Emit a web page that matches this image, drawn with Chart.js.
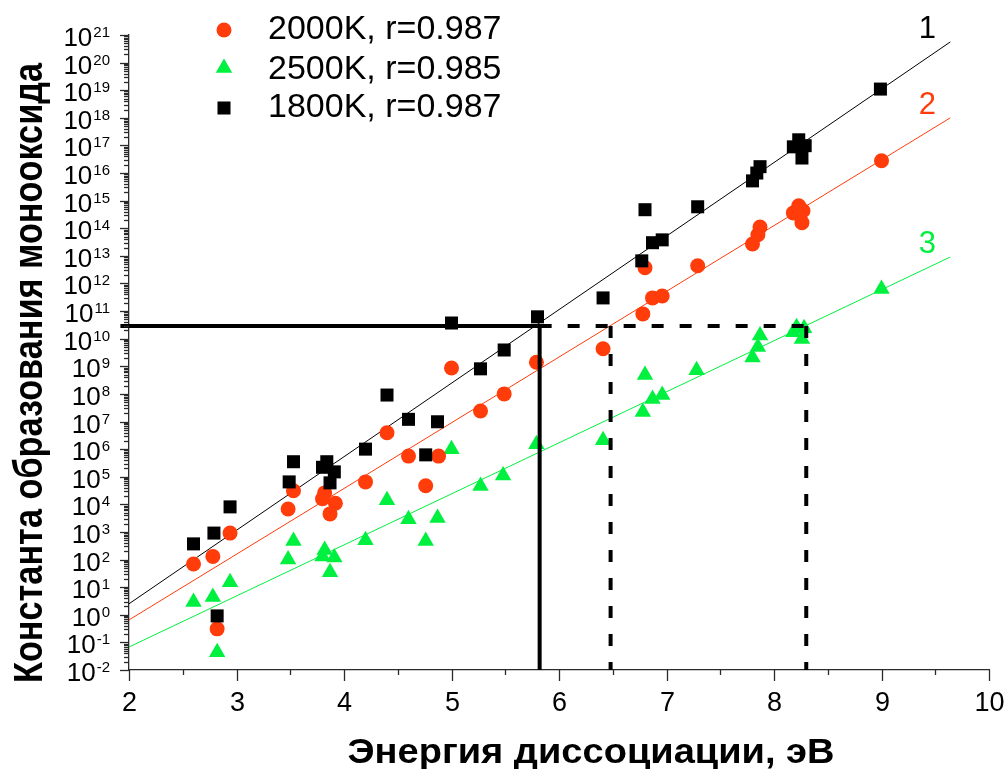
<!DOCTYPE html>
<html lang="ru">
<head>
<meta charset="utf-8">
<title>Константа образования монооксида</title>
<script src="https://cdn.jsdelivr.net/npm/chart.js@4.4.1/dist/chart.umd.min.js"></script>
<style>
  html, body { margin: 0; padding: 0; background: #fff; }
  #grafico { position: relative; width: 1008px; height: 769px; }
</style>
</head>
<body>
<div id="grafico"><canvas id="cvsMonooxido"></canvas></div>
<script>
// ! Datos
const seriesNames = ['2000K, r=0.987', '2500K, r=0.985', '1800K, r=0.987'];

const x1800 = [2.60, 2.79, 2.94, 2.82, 3.49, 3.53, 3.80, 3.84, 3.91, 3.87, 4.20, 4.40, 4.60, 4.87, 4.76, 5.00, 5.27,
  5.49, 5.80, 6.41, 6.77, 6.80, 6.87, 6.96, 7.29, 7.80, 7.84, 7.87, 8.18, 8.23, 8.29, 8.26, 8.99];
const y1800 = [3.7e2, 9.1e2, 8.1e3, 0.91, 6.5e4, 3.5e5, 2.2e5, 3.5e5, 1.5e5, 6.0e4, 1.0e6, 9.1e7, 1.2e7, 9.8e6, 6.2e5,
  3.7e10, 8.1e8, 3.9e9, 6.2e10, 3.0e11, 6.6e12, 4.7e14, 3.0e13, 3.8e13, 6.0e14, 5.2e15, 1.0e16, 1.7e16, 8.9e16,
  1.6e17, 9.8e16, 3.5e16, 1.1e19];

const x2000 = [2.60, 2.78, 2.94, 2.82, 3.48, 3.53, 3.82, 3.80, 3.92, 3.87, 4.20, 4.40, 4.60, 4.88, 4.76, 5.00, 5.27,
  5.49, 5.79, 6.41, 6.78, 6.87, 6.96, 6.80, 7.29, 7.80, 7.85, 7.87, 8.18, 8.23, 8.27, 8.26, 9.00];
const y2000 = [69, 1.3e2, 9.1e2, 0.31, 6.8e3, 3.1e4, 2.6e4, 1.6e4, 1.1e4, 4.5e3, 6.5e4, 3.9e6, 5.6e5, 5.6e5, 4.7e4,
  8.7e8, 2.4e7, 1.0e8, 1.4e9, 4.3e9, 7.9e10, 3.0e11, 3.5e11, 3.7e12, 4.4e12, 2.7e13, 5.8e13, 1.1e14, 3.6e14, 6.5e14,
  4.3e14, 1.6e14, 2.8e16];

const x2500 = [2.60, 2.78, 2.94, 2.82, 3.53, 3.48, 3.82, 3.80, 3.91, 3.87, 4.20, 5.00, 4.40, 4.60, 4.87, 4.76, 5.27,
  5.48, 5.79, 6.41, 6.80, 6.87, 6.96, 6.78, 7.28, 7.87, 7.85, 7.80, 8.21, 8.28, 8.26, 8.18, 9.00];
const y2500 = [2.9, 4.4, 15, 0.044, 4.7e2, 1.0e2, 2.2e2, 1.3e2, 1.2e2, 35, 5.0e2, 1.0e6, 1.4e4, 2.9e3, 3.2e3, 4.7e2,
  4.6e4, 1.1e5, 1.5e6, 2.1e6, 4.8e8, 6.5e7, 9.1e7, 2.2e7, 7.2e8, 1.3e10, 5.0e9, 2.1e9, 2.6e10, 2.4e10, 9.8e9,
  1.7e10, 6.3e11];

// rectas de ajuste (extremos)
const fitX = [2, 9.64];
const fit1 = [2.5, 5.6e20];
const fit2 = [0.65, 1.0e18];
const fit3 = [0.068, 9.1e12];
const fitLabels = ['1', '2', '3'];

// lineas de referencia
const refY = 2.9e10;
const refXStart = 1.92;
const refX = [5.82, 6.48, 8.30];
const refXEnd = 8.35;

// ticks
const xTicks = [2, 3, 4, 5, 6, 7, 8, 9, 10];
const yExponents = [-2, -1, 0, 1, 2, 3, 4, 5, 6, 7, 8, 9, 10, 11, 12, 13, 14, 15, 16, 17, 18, 19, 20, 21];

const xTitle = 'Энергия диссоциации, эВ';
const yTitle = 'Константа образования монооксида';

const rojo = '#ff3c0a';
const verde = '#00f040';
const negro = '#000000';
const ejeColor = '#2a2a2a';
const fuente = '"Liberation Sans", Arial, sans-serif';

const pts = (xs, ys) => xs.map((v, i) => ({ x: v, y: ys[i] }));

function refLine(data, dashed) {
  return {
    data, showLine: true, borderColor: negro, borderWidth: 4, borderDash: dashed ? [12, 16] : [],
    pointRadius: 0, clip: false, borderCapStyle: 'butt'
  };
}
function fitLine(ys, color) {
  return { data: pts(fitX, ys), showLine: true, borderColor: color, borderWidth: 1, pointRadius: 0 };
}
function markers(xs, ys, color, style, radius) {
  return {
    data: pts(xs, ys), showLine: false, pointStyle: style, pointRadius: radius,
    backgroundColor: color, borderColor: color, pointBorderWidth: 0
  };
}

function drawMarker(ctx, style, x, y, r, color) {
  ctx.fillStyle = color;
  ctx.beginPath();
  if (style === 'circle') {
    ctx.arc(x, y, r, 0, Math.PI * 2);
  } else if (style === 'triangle') {
    ctx.moveTo(x, y - r);
    ctx.lineTo(x + r * 0.866, y + r * 0.5);
    ctx.lineTo(x - r * 0.866, y + r * 0.5);
    ctx.closePath();
  } else {
    const s = r * Math.SQRT1_2;
    ctx.rect(x - s, y - s, 2 * s, 2 * s);
  }
  ctx.fill();
}

// texto comprimido al ancho dado
function textoAjustado(ctx, text, x, y, rot, width, font) {
  ctx.save();
  ctx.font = font;
  ctx.translate(x, y);
  ctx.rotate(rot);
  const w = ctx.measureText(text).width;
  ctx.scale(width / w, 1);
  ctx.textAlign = 'center';
  ctx.textBaseline = 'alphabetic';
  ctx.fillText(text, 0, 0);
  ctx.restore();
}

const ejes = {
  id: 'ejes',
  afterDraw(chart) {
    const { ctx, chartArea: a, scales: { x, y } } = chart;
    ctx.save();
    ctx.strokeStyle = ejeColor;
    ctx.lineWidth = 1.3;
    ctx.fillStyle = negro;
    const seg = (x0, y0, x1, y1) => { ctx.beginPath(); ctx.moveTo(x0, y0); ctx.lineTo(x1, y1); ctx.stroke(); };

    // eje Y: ticks mayores, menores y etiquetas 10^n
    yExponents.forEach((e, i) => {
      const py = Math.round(y.getPixelForValue(Math.pow(10, e))) + 0.5;
      seg(a.left - 9, py, a.left, py);
      if (i < yExponents.length - 1) {
        for (let k = 2; k <= 9; k++) {
          const pm = Math.round(y.getPixelForValue(k * Math.pow(10, e))) + 0.5;
          seg(a.left - 5, pm, a.left, pm);
        }
      }
      ctx.textAlign = 'right';
      ctx.textBaseline = 'alphabetic';
      ctx.font = '15px ' + fuente;
      const exp = String(e);
      const ew = ctx.measureText(exp).width;
      ctx.fillText(exp, 110, py + 1);
      ctx.font = '26px ' + fuente;
      ctx.fillText('10', 109 - ew, py + 10);
    });

    // eje X
    xTicks.forEach((v, i) => {
      const px = Math.round(x.getPixelForValue(v)) + 0.5;
      seg(px, a.bottom, px, a.bottom + 11);
      if (i < xTicks.length - 1) {
        const pm = Math.round(x.getPixelForValue(v + 0.5)) + 0.5;
        seg(pm, a.bottom, pm, a.bottom + 5);
      }
      ctx.font = '27px ' + fuente;
      ctx.textAlign = 'center';
      ctx.fillText(String(v), px, 711);
    });

    // titulos de los ejes
    textoAjustado(ctx, xTitle, 591, 763, 0, 487, 'bold 35px ' + fuente);
    textoAjustado(ctx, yTitle, 42, 373, -Math.PI / 2, 620, 'bold 40px ' + fuente);

    // numeros de las rectas
    ctx.font = '31px ' + fuente;
    ctx.textAlign = 'center';
    [[fit1, negro], [fit2, rojo], [fit3, verde]].forEach(([ys, color], i) => {
      ctx.fillStyle = color;
      ctx.fillText(fitLabels[i], x.getPixelForValue(fitX[1]) - 23, y.getPixelForValue(ys[1]) - 4);
    });

    // leyenda
    const estilos = [['circle', 7.5, rojo], ['triangle', 9.5, verde], ['rect', 9.2, negro]];
    const filas = [39, 79, 117];
    estilos.forEach(([st, r, color], i) => {
      drawMarker(ctx, st, 224, filas[i] - 9 - (st === 'triangle' ? 2 : 0), r, color);
      ctx.fillStyle = negro;
      ctx.font = '34px ' + fuente;
      ctx.textAlign = 'left';
      ctx.fillText(seriesNames[i], 268, filas[i]);
    });
    ctx.restore();
  }
};

const cvsMonooxido = document.getElementById('cvsMonooxido');
new Chart(cvsMonooxido, {
  type: 'scatter',
  data: {
    datasets: [
      refLine([{ x: refXStart, y: refY }, { x: refX[0], y: refY }, { x: refX[0], y: 1e-2 }], false),
      refLine([{ x: refX[0], y: refY }, { x: refXEnd, y: refY }], true),
      refLine([{ x: refX[1], y: refY }, { x: refX[1], y: 1e-2 }], true),
      refLine([{ x: refX[2], y: refY }, { x: refX[2], y: 1e-2 }], true),
      markers(x1800, y1800, negro, 'rect', 9.2),
      markers(x2000, y2000, rojo, 'circle', 7.5),
      markers(x2500, y2500, verde, 'triangle', 9.5),
      fitLine(fit1, negro),
      fitLine(fit2, rojo),
      fitLine(fit3, verde)
    ]
  },
  options: {
    responsive: true,
    maintainAspectRatio: false,
    animation: false,
    devicePixelRatio: 1,
    layout: { padding: { left: 129, right: 19, top: 35, bottom: 99 } },
    plugins: { legend: { display: false }, tooltip: { enabled: false } },
    scales: {
      x: {
        type: 'linear', min: 2, max: 10,
        grid: { display: false, drawTicks: false },
        ticks: { display: false },
        border: { color: ejeColor, width: 1.3 }
      },
      y: {
        type: 'logarithmic', min: 1e-2, max: 1e21,
        grid: { display: false, drawTicks: false },
        ticks: { display: false },
        border: { color: ejeColor, width: 1.3 }
      }
    }
  },
  plugins: [ejes]
});
</script>
</body>
</html>
